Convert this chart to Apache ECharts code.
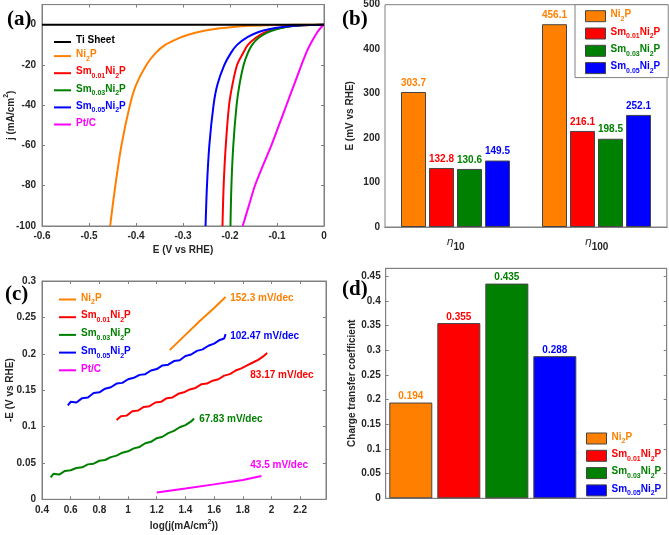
<!DOCTYPE html>
<html>
<head>
<meta charset="utf-8">
<script src="https://cdn.jsdelivr.net/npm/echarts@6/dist/echarts.min.js"></script>
<style>
  html, body { margin: 0; padding: 0; background: #fff; }
  #chart { width: 669px; height: 535px; }
</style>
</head>
<body>
<div id="chart"></div>
<script>
// (a) polarization curves, [E (V vs RHE), j (mA/cm2)]
const lsvTi = [[-0.6, 0], [0, 0]];
const lsvNi2P = [[-0.455, -100], [-0.444, -80], [-0.431, -60], [-0.413, -40], [-0.4, -30], [-0.378, -20], [-0.358, -14],
  [-0.338, -10], [-0.31, -6.8], [-0.289, -5], [-0.26, -3.2], [-0.229, -2], [-0.193, -1.1], [-0.16, -0.55],
  [-0.122, -0.25], [-0.08, -0.08], [-0.04, -0.02], [0, 0]];
const lsvSm001 = [[-0.216, -100], [-0.2135, -80], [-0.209, -60], [-0.202, -40], [-0.195, -30], [-0.185, -20], [-0.172, -14],
  [-0.162, -10], [-0.145, -6.5], [-0.127, -4], [-0.107, -2.4], [-0.082, -1.1], [-0.058, -0.5], [-0.03, -0.12], [0, 0]];
const lsvSm003 = [[-0.199, -100], [-0.197, -80], [-0.193, -60], [-0.186, -40], [-0.18, -30], [-0.171, -20], [-0.162, -14],
  [-0.153, -10], [-0.139, -6.5], [-0.122, -4], [-0.103, -2.4], [-0.08, -1.1], [-0.057, -0.5], [-0.03, -0.12], [0, 0]];
const lsvSm005 = [[-0.252, -100], [-0.249, -80], [-0.244, -60], [-0.235, -40], [-0.227, -30], [-0.212, -20], [-0.198, -14],
  [-0.185, -10], [-0.162, -6], [-0.139, -3.6], [-0.117, -2.2], [-0.088, -1.1], [-0.062, -0.5], [-0.032, -0.15], [0, 0]];
const lsvPtC = [[-0.173, -100], [-0.16, -90], [-0.147, -80], [-0.13, -70], [-0.112, -60], [-0.096, -50], [-0.08, -40],
  [-0.064, -30], [-0.048, -20], [-0.036, -13], [-0.025, -8], [-0.015, -4], [-0.007, -1.5], [0, 0]];

// (b) overpotentials at 10 and 100 mA/cm2 (mV)
const etaCats = ['η10', 'η100'];
const etaNi2P = [303.7, 456.1];
const etaSm001 = [132.8, 216.1];
const etaSm003 = [130.6, 198.5];
const etaSm005 = [149.5, 252.1];

// (c) Tafel plots, [log j, -E]
const tafNi2P = [[1.29, 0.205], [1.4, 0.226], [1.5, 0.245], [1.6, 0.263], [1.68, 0.278]];
const tafSm001 = [[0.92, 0.109], [0.95, 0.114], [0.99, 0.115], [1.03, 0.121], [1.07, 0.122], [1.11, 0.127], [1.15, 0.128],
  [1.19, 0.133], [1.23, 0.134], [1.27, 0.139], [1.31, 0.14], [1.35, 0.145], [1.39, 0.147], [1.43, 0.151], [1.47, 0.153],
  [1.51, 0.158], [1.55, 0.159], [1.59, 0.163], [1.63, 0.165], [1.67, 0.17], [1.71, 0.172], [1.75, 0.177], [1.79, 0.18],
  [1.83, 0.184], [1.87, 0.188], [1.91, 0.192], [1.94, 0.196], [1.97, 0.201]];
const tafSm003 = [[0.46, 0.03], [0.48, 0.035], [0.52, 0.034], [0.56, 0.039], [0.6, 0.04], [0.64, 0.043], [0.68, 0.044],
  [0.72, 0.048], [0.76, 0.049], [0.8, 0.053], [0.84, 0.054], [0.88, 0.058], [0.92, 0.06], [0.96, 0.064], [1.0, 0.066],
  [1.04, 0.07], [1.08, 0.072], [1.12, 0.077], [1.16, 0.079], [1.2, 0.084], [1.24, 0.086], [1.28, 0.091], [1.32, 0.094],
  [1.36, 0.099], [1.4, 0.102], [1.44, 0.107], [1.46, 0.111]];
const tafSm005 = [[0.58, 0.129], [0.6, 0.134], [0.64, 0.133], [0.68, 0.139], [0.72, 0.14], [0.76, 0.146], [0.8, 0.147],
  [0.84, 0.152], [0.88, 0.154], [0.92, 0.159], [0.96, 0.16], [1.0, 0.165], [1.04, 0.167], [1.08, 0.171], [1.12, 0.172],
  [1.16, 0.177], [1.2, 0.179], [1.24, 0.184], [1.28, 0.185], [1.32, 0.19], [1.36, 0.191], [1.4, 0.197], [1.44, 0.199],
  [1.48, 0.204], [1.52, 0.206], [1.56, 0.211], [1.6, 0.214], [1.64, 0.219], [1.67, 0.221], [1.68, 0.227]];
const tafPtC = [[1.2, 0.0092], [1.4, 0.0148], [1.6, 0.0205], [1.8, 0.0265], [1.93, 0.032]];
const tafSlopes = ['152.3 mV/dec', '102.47 mV/dec', '83.17 mV/dec', '67.83 mV/dec', '43.5 mV/dec'];

// (d) charge transfer coefficient
const ctcNames = ['Ni2P', 'Sm0.01Ni2P', 'Sm0.03Ni2P', 'Sm0.05Ni2P'];
const ctcValues = [0.194, 0.355, 0.435, 0.288];

const FONT = '"Liberation Sans", Arial, sans-serif';
const AX = '#808080';
const TXT = '#262626';
const colors = { k: '#000000', o: '#FF8000', r: '#FF0000', g: '#008000', b: '#0000FF', p: '#FF00FF' };
const keyOf = { 'Ti Sheet': 'k', 'Ni2P': 'o', 'Sm0.01Ni2P': 'r', 'Sm0.03Ni2P': 'g', 'Sm0.05Ni2P': 'b', 'Pt/C': 'p' };

// rich styles for legend texts with subscripts
const RICH = {};
for (const k in colors) {
  RICH['m' + k] = { color: colors[k], fontSize: 10, fontWeight: 'bold', fontFamily: FONT, lineHeight: 13, verticalAlign: 'top' };
  RICH['s' + k] = { color: colors[k], fontSize: 7, fontWeight: 'bold', fontFamily: FONT, lineHeight: 4, verticalAlign: 'bottom' };
}
function richName(name) {
  const k = keyOf[name];
  const M = t => '{m' + k + '|' + t + '}', S = t => '{s' + k + '|' + t + '}';
  if (name === 'Ni2P') return M('Ni') + S('2') + M('P');
  const m = name.match(/^Sm([\d.]+)Ni2P$/);
  if (m) return M('Sm') + S(m[1]) + M('Ni') + S('2') + M('P');
  return M(name);
}

const lab = { color: TXT, fontSize: 10, fontWeight: 'bold', fontFamily: FONT };
const supRich = {
  n: { color: TXT, fontSize: 10, fontWeight: 'bold', fontFamily: FONT, lineHeight: 13, verticalAlign: 'bottom' },
  u: { color: TXT, fontSize: 7, fontWeight: 'bold', fontFamily: FONT, lineHeight: 4, verticalAlign: 'top' }
};

function axis(gridIndex, position, min, max, interval, extra) {
  return Object.assign({
    gridIndex, position, type: 'value', min, max, interval,
    axisLine: { onZero: false, lineStyle: { color: AX, width: 1 } },
    axisTick: { inside: true, length: 3, lineStyle: { color: AX } },
    axisLabel: { show: false },
    splitLine: { show: false },
    nameMoveOverlap: false
  }, extra || {});
}

function lineSeries(panel, name, data, xi, mark) {
  const s = {
    type: 'line', name: panel + ':' + name, data, xAxisIndex: xi, yAxisIndex: xi,
    symbol: 'none', showSymbol: false, smooth: panel === 'a' ? 0.3 : false,
    lineStyle: { color: colors[keyOf[name]], width: 2 }, itemStyle: { color: colors[keyOf[name]] },
    z: name === 'Ti Sheet' ? 3 : 2, animation: false
  };
  if (mark) {
    s.markPoint = {
      symbol: 'circle', symbolSize: 0, animation: false,
      data: [{ coord: mark.coord, value: mark.text }],
      label: { show: true, position: 'right', distance: 0, formatter: mark.text,
        color: colors[keyOf[name]], fontSize: 10, fontWeight: 'bold', fontFamily: FONT }
    };
  }
  return s;
}

function legend(panel, names, left, top, gap, box) {
  const l = {
    orient: 'vertical', left, top, itemGap: gap, padding: 0, selectedMode: false,
    data: names.map(n => panel + ':' + n),
    formatter: n => richName(n.slice(2)),
    textStyle: { rich: RICH, fontSize: 10, fontFamily: FONT },
    icon: 'rect'
  };
  if (box) {
    l.itemWidth = 20; l.itemHeight = 11;
    l.itemStyle = { borderColor: '#444', borderWidth: 1 };
  } else {
    l.itemWidth = 17; l.itemHeight = 2;
    l.itemStyle = { borderWidth: 0 };
  }
  return l;
}

const samples = ['Ni2P', 'Sm0.01Ni2P', 'Sm0.03Ni2P', 'Sm0.05Ni2P'];
const etaSets = [etaNi2P, etaSm001, etaSm003, etaSm005];

const option = {
  backgroundColor: '#fff',
  animation: false,
  grid: [
    { left: 42, right: 345, top: 4.6, bottom: 309, show: true, borderColor: AX, borderWidth: 1, outerBoundsMode: 'none' },
    { left: 385, right: 2, top: 4.7, bottom: 308, show: true, borderColor: AX, borderWidth: 1, outerBoundsMode: 'none' },
    { left: 42, right: 343, top: 281, bottom: 35.7, show: true, borderColor: AX, borderWidth: 1, outerBoundsMode: 'none' },
    { left: 385.7, right: 2.3, top: 268.3, bottom: 36.7, show: true, borderColor: AX, borderWidth: 1, outerBoundsMode: 'none' }
  ],
  xAxis: [
    axis(0, 'bottom', -0.6, 0, 0.1, {
      axisLabel: Object.assign({ margin: 5 }, lab),
      name: 'E (V vs RHE)', nameLocation: 'middle', nameGap: 19, nameTextStyle: lab
    }),
    axis(0, 'top', -0.6, 0, 0.1),
    {
      gridIndex: 1, type: 'category', data: etaCats, position: 'bottom',
      axisLine: { lineStyle: { color: AX } }, axisTick: { show: false }, splitLine: { show: false },
      axisLabel: {
        margin: 10, interval: 0,
        formatter: v => '{e|η}{s|' + v.slice(1) + '}',
        rich: {
          e: { color: TXT, fontSize: 11, fontStyle: 'italic', fontFamily: '"DejaVu Sans", sans-serif', lineHeight: 10, verticalAlign: 'top' },
          s: { color: TXT, fontSize: 10, fontWeight: 'bold', fontFamily: FONT, lineHeight: 15, verticalAlign: 'bottom' }
        }
      }
    },
    {
      gridIndex: 1, type: 'category', data: etaCats, position: 'top',
      axisLine: { lineStyle: { color: AX } }, axisTick: { show: false }, axisLabel: { show: false }, splitLine: { show: false }
    },
    axis(2, 'bottom', 0.4, 2.38, 0.2, {
      axisLabel: Object.assign({ margin: 6, showMaxLabel: false }, lab),
      name: '{n|log(j(mA/cm}{u|2}{n|))}', nameLocation: 'middle', nameGap: 19, nameTextStyle: { rich: supRich }
    }),
    axis(2, 'top', 0.4, 2.38, 0.2),
    axis(3, 'bottom', 0.477, 6.33, 1, { axisTick: { show: false } }),
    axis(3, 'top', 0.477, 6.33, 1, { axisTick: { show: false } })
  ],
  yAxis: [
    axis(0, 'left', -100, 10, 20, {
      axisLabel: Object.assign({ margin: 6, showMaxLabel: false }, lab),
      name: '{n|j (mA/cm}{u|2}{n|)}', nameLocation: 'middle', nameGap: 26, nameTextStyle: { rich: supRich }
    }),
    axis(0, 'right', -100, 10, 20),
    axis(1, 'left', 0, 500, 100, {
      axisLabel: Object.assign({ margin: 5 }, lab),
      name: 'E (mV vs RHE)', nameLocation: 'middle', nameGap: 30, nameTextStyle: lab
    }),
    axis(1, 'right', 0, 500, 100),
    axis(2, 'left', 0, 0.3, 0.05, {
      axisLabel: Object.assign({ margin: 6 }, lab),
      name: '-E (V vs RHE)', nameLocation: 'middle', nameGap: 27, nameTextStyle: lab
    }),
    axis(2, 'right', 0, 0.3, 0.05),
    axis(3, 'left', 0, 0.466, 0.05, {
      axisLabel: Object.assign({ margin: 5, showMaxLabel: false }, lab),
      name: 'Charge transfer coefficient', nameLocation: 'middle', nameGap: 28, nameTextStyle: lab
    }),
    axis(3, 'right', 0, 0.466, 0.05)
  ],
  legend: [
    legend('a', ['Ti Sheet', 'Ni2P', 'Sm0.01Ni2P', 'Sm0.03Ni2P', 'Sm0.05Ni2P', 'Pt/C'], 54, 35.5, 4.1, false),
    Object.assign(legend('b', samples, 575, 4.7, 4.3, true), {
      padding: [5, 8, 3, 10], borderColor: AX, borderWidth: 1, backgroundColor: '#fff'
    }),
    legend('c', ['Ni2P', 'Sm0.01Ni2P', 'Sm0.03Ni2P', 'Sm0.05Ni2P', 'Pt/C'], 59, 293, 4.7, false),
    legend('d', samples, 586, 432, 4.3, true)
  ],
  graphic: [
    { type: 'text', left: 7, top: 9, style: { text: '(a)', font: 'bold 21px "Liberation Serif", serif', fill: '#000' } },
    { type: 'text', left: 342, top: 9, style: { text: '(b)', font: 'bold 21px "Liberation Serif", serif', fill: '#000' } },
    { type: 'text', left: 5, top: 284, style: { text: '(c)', font: 'bold 21px "Liberation Serif", serif', fill: '#000' } },
    { type: 'text', left: 342, top: 279, style: { text: '(d)', font: 'bold 21px "Liberation Serif", serif', fill: '#000' } }
  ],
  series: [
    lineSeries('a', 'Ti Sheet', lsvTi, 0),
    lineSeries('a', 'Ni2P', lsvNi2P, 0),
    lineSeries('a', 'Sm0.01Ni2P', lsvSm001, 0),
    lineSeries('a', 'Sm0.03Ni2P', lsvSm003, 0),
    lineSeries('a', 'Sm0.05Ni2P', lsvSm005, 0),
    lineSeries('a', 'Pt/C', lsvPtC, 0),

    ...samples.map((n, i) => ({
      type: 'bar', name: 'b:' + n, data: etaSets[i], xAxisIndex: 2, yAxisIndex: 2,
      barWidth: 25, barGap: '12%',
      itemStyle: { color: colors[keyOf[n]], borderColor: '#444', borderWidth: 1 },
      label: { show: true, position: 'top', distance: 4, color: colors[keyOf[n]], fontSize: 10, fontWeight: 'bold', fontFamily: FONT }
    })),

    lineSeries('c', 'Ni2P', tafNi2P, 4, { coord: [1.712, 0.2766], text: tafSlopes[0] }),
    lineSeries('c', 'Sm0.05Ni2P', tafSm005, 4, { coord: [1.712, 0.2244], text: tafSlopes[1] }),
    lineSeries('c', 'Sm0.01Ni2P', tafSm001, 4, { coord: [1.852, 0.1708], text: tafSlopes[2] }),
    lineSeries('c', 'Sm0.03Ni2P', tafSm003, 4, { coord: [1.496, 0.11], text: tafSlopes[3] }),
    lineSeries('c', 'Pt/C', tafPtC, 4, { coord: [1.852, 0.047], text: tafSlopes[4] }),

    ...ctcNames.map((n, i) => ({
      type: 'bar', name: 'd:' + n, data: [[i + 1, ctcValues[i]]], xAxisIndex: 6, yAxisIndex: 6,
      barWidth: 43, barGap: '-100%',
      itemStyle: { color: colors[keyOf[n]], borderColor: '#444', borderWidth: 1 },
      label: { show: true, position: 'top', distance: 1, color: colors[keyOf[n]], fontSize: 10, fontWeight: 'bold', fontFamily: FONT,
        formatter: p => String(p.value[1]) }
    }))
  ]
};

const chart = echarts.init(document.getElementById('chart'));
chart.setOption(option);
</script>
</body>
</html>
